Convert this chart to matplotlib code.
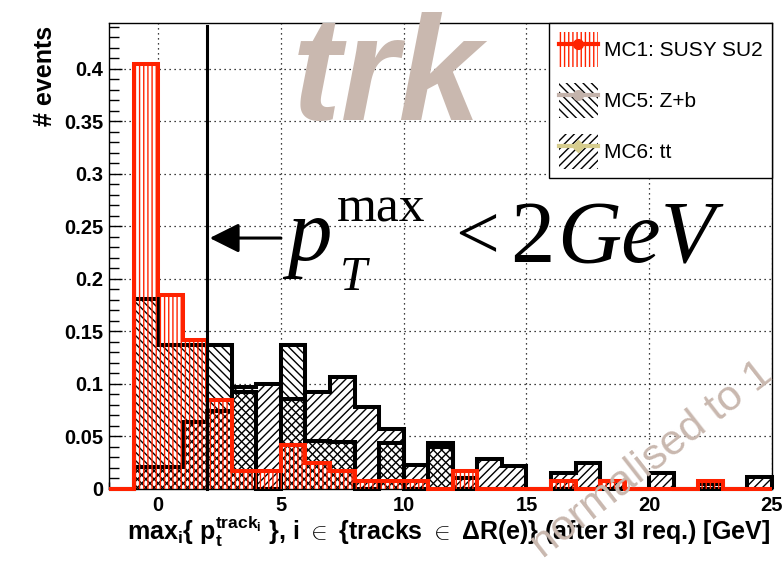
import numpy as np
import matplotlib
matplotlib.use("Agg")
import matplotlib.pyplot as plt
from matplotlib.patches import Rectangle
from matplotlib.lines import Line2D
from matplotlib.ticker import MultipleLocator, FuncFormatter

# ---- data (bin edges in GeV, normalised contents) ----
bin_edges = list(range(-2, 26))
mc1_susy = [0, 0.405, 0.185, 0.142, 0.085, 0.017, 0.017, 0.042, 0.025, 0.017,
            0.008, 0.008, 0.008, 0.0, 0.017, 0, 0, 0, 0.008, 0, 0.008, 0, 0,
            0, 0.008, 0, 0]
mc5_zb = [0, 0.181, 0.137, 0.137, 0.137, 0.092, 0.0, 0.137, 0.046, 0.045,
          0.0, 0.044, 0.0, 0.044, 0, 0, 0, 0, 0, 0, 0, 0, 0, 0, 0, 0, 0]
mc6_tt = [0, 0.021, 0.021, 0.064, 0.074, 0.097, 0.100, 0.086, 0.092, 0.107,
          0.078, 0.057, 0.023, 0.040, 0.010, 0.029, 0.022, 0, 0.015, 0.025,
          0.008, 0, 0.015, 0, 0.005, 0, 0.011]
legend_labels = ["MC1: SUSY SU2", "MC5: Z+b", "MC6: tt"]
cut_value = 2.0

RED = "#ff2200"
TAN = "#c9b8af"

plt.rcParams["hatch.linewidth"] = 1.0
plt.rcParams["mathtext.fontset"] = "custom"
plt.rcParams["mathtext.rm"] = "Liberation Sans:bold"
plt.rcParams["mathtext.it"] = "Liberation Sans:bold"
plt.rcParams["mathtext.bf"] = "Liberation Sans:bold"
plt.rcParams["mathtext.sf"] = "Liberation Sans:bold"

W, H = 782, 571
fig = plt.figure(figsize=(W / 100, H / 100), dpi=100)
ax = fig.add_axes([109 / W, 1 - 489 / H, 663 / W, 466 / H])
ax.set_xlim(-2, 25)
ax.set_ylim(0, 0.4438)

edges = np.array(bin_edges, dtype=float)
v1 = np.array(mc1_susy)
v5 = np.array(mc5_zb)
v6 = np.array(mc6_tt)
env = np.maximum.reduce([v1, v5, v6])

ax.set_axisbelow(True)
ax.grid(True, which="major", color="black", linestyle=(0, (1, 3)), linewidth=0.9)

ax.stairs(env, edges, fill=True, color="white", linewidth=0, zorder=1.5)
ax.stairs(v5, edges, fill=True, facecolor="none", edgecolor="black",
          hatch="\\\\\\\\", linewidth=0, zorder=2)
ax.stairs(v6, edges, fill=True, facecolor="none", edgecolor="black",
          hatch="////", linewidth=0, zorder=2)
ax.stairs(v5, edges, baseline=0, color="black", linewidth=2.9, zorder=3, clip_on=False)
ax.stairs(v6, edges, baseline=0, color="black", linewidth=2.9, zorder=3, clip_on=False)
ax.stairs(v1, edges, fill=True, facecolor="none", edgecolor=RED,
          hatch="||||", linewidth=0, zorder=4)
ax.stairs(v1, edges, baseline=0, color=RED, linewidth=2.9, zorder=5, clip_on=False)

# cut line and arrow
ax.plot([cut_value, cut_value], [0, 0.4405], color="black", linewidth=2.2,
        zorder=6, clip_on=False)
ax.annotate("", xy=(cut_value + 0.1, 0.239), xytext=(5.0, 0.239),
            arrowprops=dict(arrowstyle="-|>,head_length=0.6,head_width=0.3",
                            color="black", lw=2.2, mutation_scale=30,
                            shrinkA=0, shrinkB=0), zorder=6)

# axes styling
ax.xaxis.set_major_locator(MultipleLocator(5))
ax.xaxis.set_minor_locator(MultipleLocator(1))
ax.yaxis.set_major_locator(MultipleLocator(0.05))
ax.yaxis.set_minor_locator(MultipleLocator(0.01))
ax.yaxis.set_major_formatter(FuncFormatter(lambda v, p: "%g" % round(v, 3)))
ax.xaxis.set_major_formatter(FuncFormatter(lambda v, p: "%g" % v))
ax.tick_params(axis="both", which="both", direction="in", top=False, right=False)
ax.tick_params(axis="y", which="major", length=9, width=1.0, pad=4)
ax.tick_params(axis="y", which="minor", length=7, width=1.0)
ax.tick_params(axis="x", which="major", length=8, width=1.0, pad=5)
ax.tick_params(axis="x", which="minor", length=5, width=1.0)
for lab in ax.get_xticklabels() + ax.get_yticklabels():
    lab.set_fontfamily("Liberation Sans")
    lab.set_fontweight("bold")
    lab.set_fontsize(14.5)
for s in ax.spines.values():
    s.set_linewidth(1.0)

# legend
h1 = (Rectangle((0, 0), 1, 1, facecolor="white", edgecolor=RED, hatch="||||", linewidth=0),
      Line2D([], [], color=RED, lw=3, marker="o", ms=7))
h5 = (Rectangle((0, 0), 1, 1, facecolor="white", edgecolor="black", hatch="\\\\\\\\", linewidth=0),
      Line2D([], [], color="#c4b3ab", lw=3, marker="o", ms=7))
h6 = (Rectangle((0, 0), 1, 1, facecolor="white", edgecolor="black", hatch="////", linewidth=0),
      Line2D([], [], color="#d6cd8e", lw=3, marker="D", ms=6))
leg = ax.legend([h1, h5, h6], legend_labels, loc="upper left",
                bbox_to_anchor=(0.664, 0.665, 0.336, 0.335), mode="expand",
                borderaxespad=0, fancybox=False, framealpha=1, edgecolor="black",
                prop={"family": "Liberation Sans", "size": 15},
                handlelength=1.9, handleheight=2.2, handletextpad=0.3,
                labelspacing=0.76, borderpad=0.45)
leg.get_frame().set_linewidth(1.0)
leg.set_zorder(10)

# big annotations (times-like)
def px(x, y):
    return x / W, 1 - y / H

fig.text(*px(287, 260), "p", fontsize=64, style="italic", family="Liberation Serif",
         ha="left", va="baseline")
fig.text(*px(337, 222), "max", fontsize=37, family="Liberation Serif",
         ha="left", va="baseline")
fig.text(*px(340, 290), "T", fontsize=35, style="italic", family="Liberation Serif",
         ha="left", va="baseline")
fig.text(*px(455, 258), "<", fontsize=56, family="Liberation Serif",
         ha="left", va="baseline")
fig.text(*px(510, 262), "2", fontsize=64, family="Liberation Serif",
         ha="left", va="baseline")
fig.text(*px(557, 262), "GeV", fontsize=64, style="italic", family="Liberation Serif",
         ha="left", va="baseline")

# watermarks
fig.text(*px(292, 120), "trk", fontsize=107, fontweight="bold", style="italic",
         family="Liberation Sans", color=TAN, ha="left", va="baseline", zorder=20)
fig.text(*px(652, 460), "normalised to 1", fontsize=31, family="Liberation Sans",
         color=TAN, rotation=38, ha="center", va="center", rotation_mode="anchor",
         zorder=20)

# axis titles
fig.text(*px(45, 26), "# events", rotation=90, fontsize=18, fontweight="bold",
         family="Liberation Sans", ha="center", va="top")
fig.text(*px(770, 540),
         r"max$_{i}${ p$_{t}^{track_{i}}$ }, i $\in$ {tracks $\in$ $\Delta$R(e)} (after 3l req.) [GeV]",
         fontsize=18, fontweight="bold", family=["Liberation Sans", "DejaVu Sans"],
         ha="right", va="baseline")

fig.savefig("out.png", dpi=100)
